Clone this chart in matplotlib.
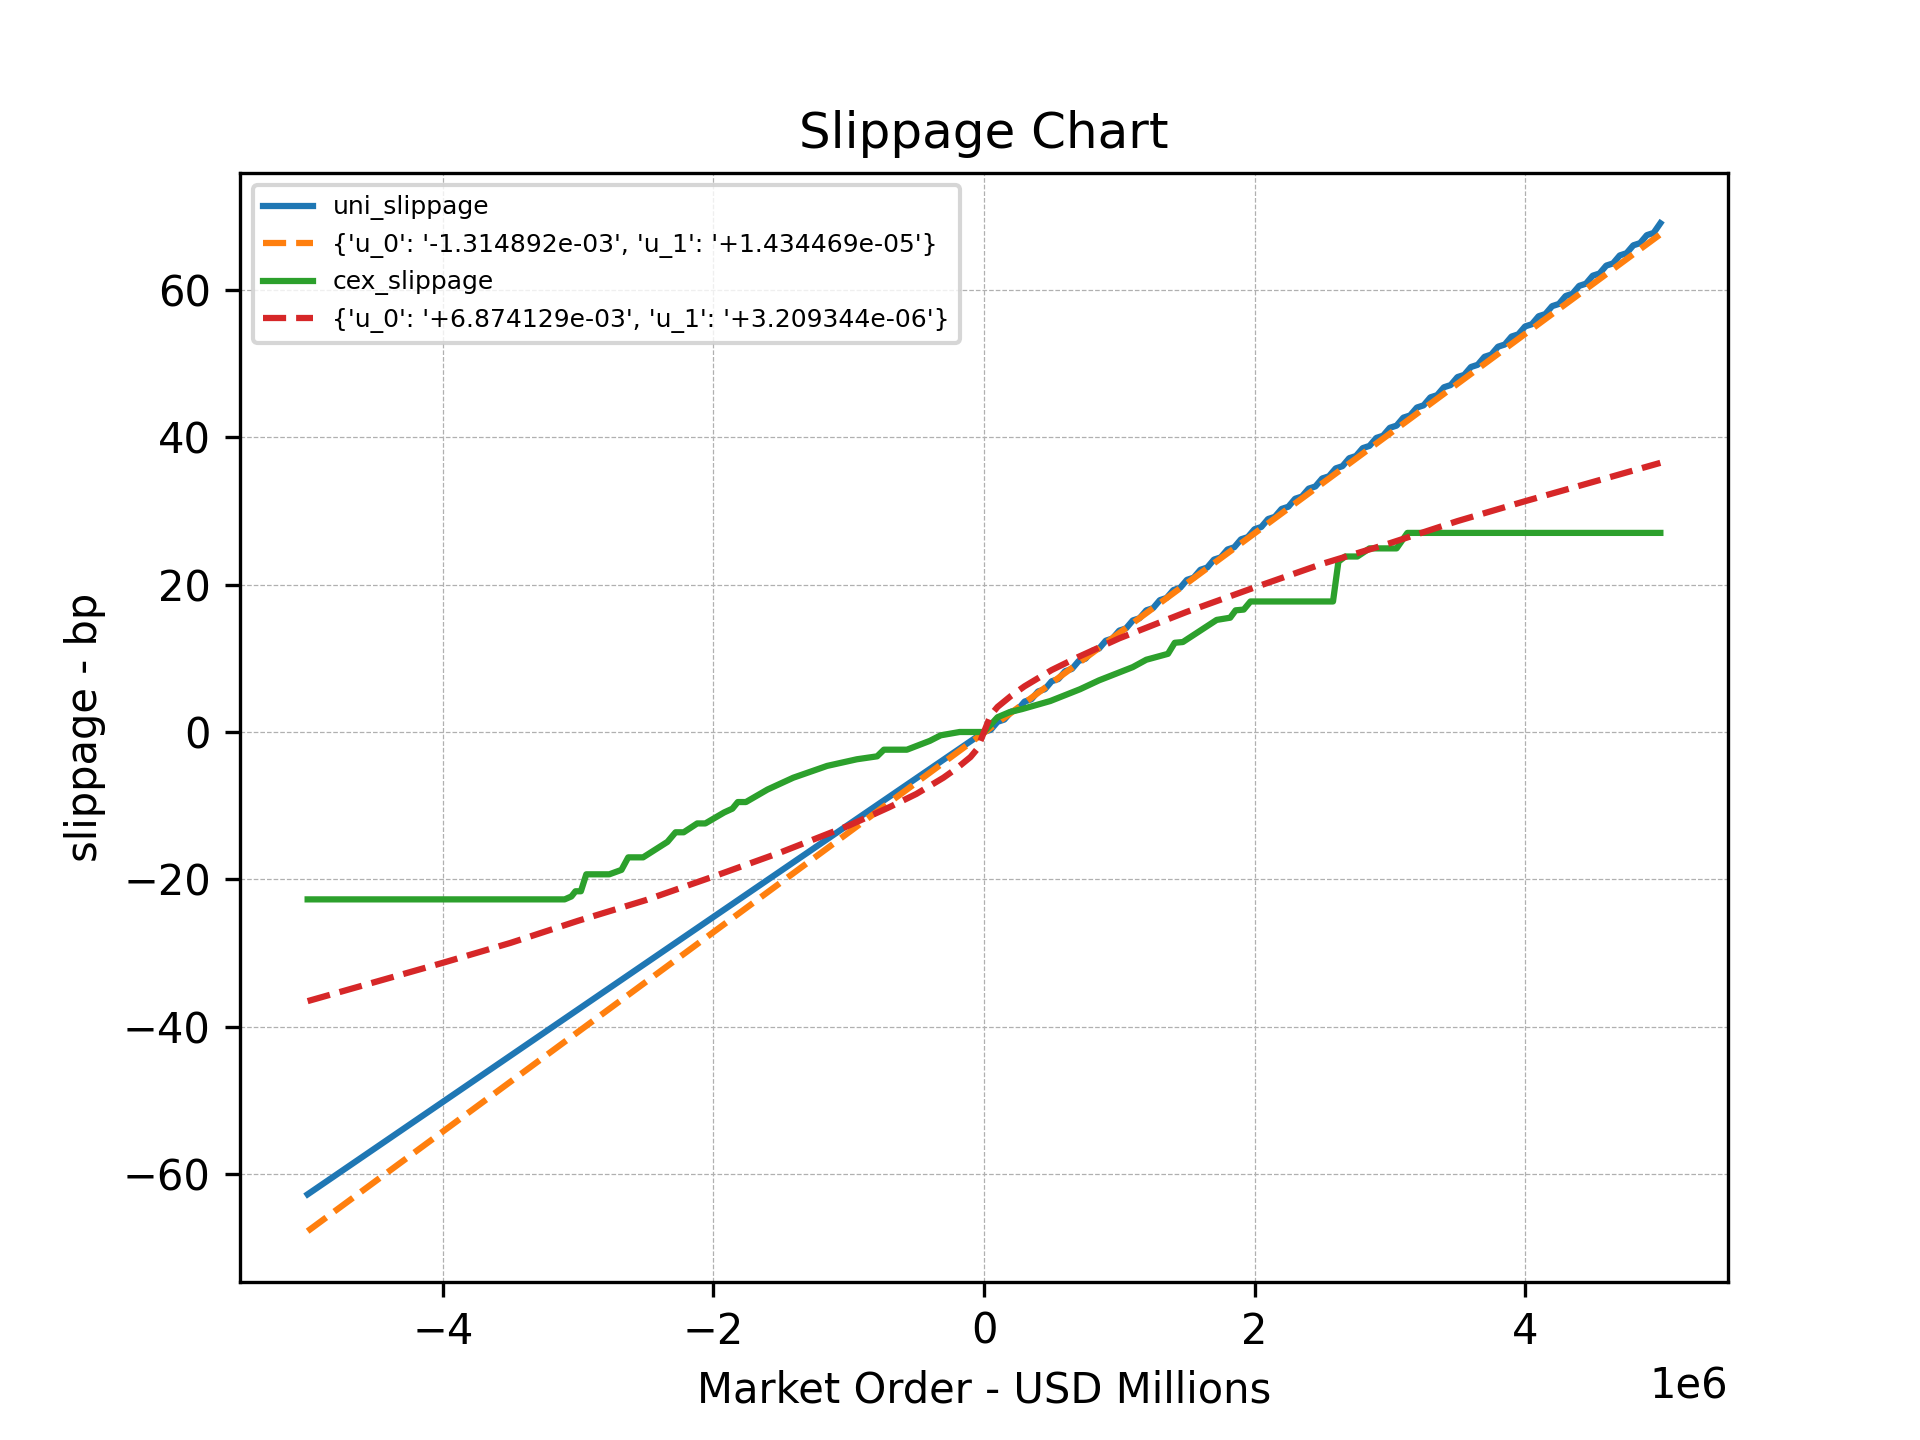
import numpy as np
import matplotlib
matplotlib.use("Agg")
import matplotlib.pyplot as plt

# x in millions of USD (axis shown with 1e6 offset)
uni_neg_x = [-5.0, 0.0]
uni_neg_y = [-62.7, 0.0]
# positive side: staircase sampled every 0.05M
uni_pos_x = [round(0.05 * i, 2) for i in range(101)]
uni_pos_y = [0.0, 0.3, 1.38, 1.68, 2.75, 3.05, 4.13, 4.43, 5.5, 5.8,
             6.88, 7.18, 8.25, 8.55, 9.63, 9.93, 11.0, 11.3, 12.38, 12.68,
             13.75, 14.05, 15.13, 15.43, 16.5, 16.8, 17.88, 18.18, 19.25, 19.55,
             20.63, 20.93, 22.0, 22.3, 23.38, 23.68, 24.75, 25.05, 26.13, 26.43,
             27.5, 27.8, 28.88, 29.18, 30.25, 30.55, 31.63, 31.93, 33.0, 33.3,
             34.38, 34.68, 35.75, 36.05, 37.13, 37.43, 38.5, 38.8, 39.88, 40.18,
             41.25, 41.55, 42.63, 42.93, 44.0, 44.3, 45.38, 45.68, 46.75, 47.05,
             48.13, 48.43, 49.5, 49.8, 50.88, 51.18, 52.25, 52.55, 53.63, 53.93,
             55.0, 55.3, 56.38, 56.68, 57.75, 58.05, 59.13, 59.43, 60.5, 60.8,
             61.88, 62.18, 63.25, 63.55, 64.63, 64.93, 66.0, 66.3, 67.38, 67.68,
             69.0]

uni_fit_x = [-5.0, 0.0, 5.0]
uni_fit_y = [-67.7, -0.1, 67.5]

cex_x = [-5.0, -3.10, -3.05, -3.02, -2.98, -2.94, -2.77, -2.68, -2.63, -2.52,
         -2.34, -2.28, -2.22, -2.12, -2.06, -1.92, -1.86, -1.82, -1.76, -1.60,
         -1.41, -1.16, -0.94, -0.79, -0.74, -0.57, -0.40, -0.32, -0.18, 0.0,
         0.10, 0.19, 0.28, 0.49, 0.71, 0.85, 1.10, 1.20, 1.36, 1.41,
         1.47, 1.62, 1.72, 1.82, 1.86, 1.92, 1.97, 2.58, 2.62, 2.67,
         2.76, 2.85, 3.05, 3.13, 5.0]
cex_y = [-22.7, -22.7, -22.3, -21.6, -21.6, -19.3, -19.3, -18.7, -17.0, -17.0,
         -14.9, -13.6, -13.6, -12.4, -12.4, -10.9, -10.4, -9.5, -9.5, -7.8,
         -6.2, -4.6, -3.7, -3.3, -2.4, -2.4, -1.2, -0.45, 0.0, 0.0,
         2.0, 2.7, 3.1, 4.2, 5.8, 7.0, 8.8, 9.8, 10.6, 12.1,
         12.2, 14.0, 15.2, 15.5, 16.5, 16.6, 17.7, 17.7, 23.1, 23.8,
         23.8, 24.9, 24.9, 27.0, 27.0]

cex_fit_x = [-5.0, -4.5, -4.0, -3.5, -3.0, -2.5, -2.0, -1.5, -1.0, -0.7,
             -0.5, -0.3, -0.2, -0.1, -0.05, 0.0, 0.05, 0.1, 0.2, 0.3,
             0.5, 0.7, 1.0, 1.5, 2.0, 2.5, 3.0, 3.5, 4.0, 4.5, 5.0]
cex_fit_y = [-36.5, -33.9, -31.3, -28.6, -25.6, -22.8, -19.6, -16.3, -12.7, -10.2,
             -8.4, -6.2, -4.9, -3.4, -2.3, 0.0, 2.3, 3.4, 4.9, 6.2,
             8.4, 10.2, 12.7, 16.3, 19.6, 22.8, 25.6, 28.6, 31.3, 33.9, 36.5]

labels = ["uni_slippage",
          "{'u_0': '-1.314892e-03', 'u_1': '+1.434469e-05'}",
          "cex_slippage",
          "{'u_0': '+6.874129e-03', 'u_1': '+3.209344e-06'}"]

scale = 1e6
fig, ax = plt.subplots(figsize=(6.4, 4.8), dpi=300)
ax.plot(np.array(uni_neg_x + uni_pos_x[1:]) * scale,
        np.array(uni_neg_y + uni_pos_y[1:]), color="#1f77b4", label=labels[0])
ax.plot(np.array(uni_fit_x) * scale, uni_fit_y, "--", color="#ff7f0e", label=labels[1])
ax.plot(np.array(cex_x) * scale, cex_y, color="#2ca02c", label=labels[2])
ax.plot(np.array(cex_fit_x) * scale, cex_fit_y, "--", color="#d62728", label=labels[3])

ax.set_title("Slippage Chart")
ax.set_xlabel("Market Order - USD Millions")
ax.set_ylabel("slippage - bp")
ax.grid(True, linestyle="--", linewidth=0.3)
ax.legend(loc="upper left", fontsize=6)

fig.savefig("out.png", dpi=300)
